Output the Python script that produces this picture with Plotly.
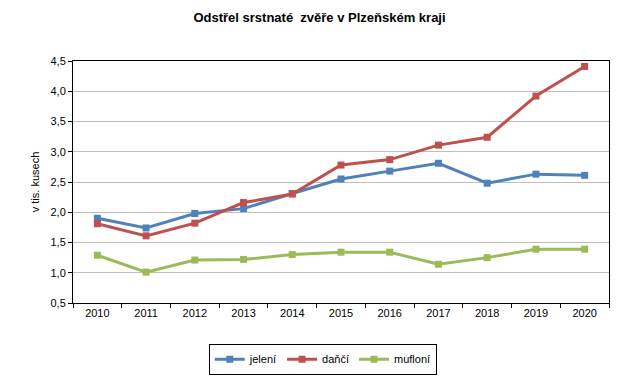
import plotly.graph_objects as go

years = ["2010", "2011", "2012", "2013", "2014", "2015", "2016", "2017", "2018", "2019", "2020"]
jeleni = [1.90, 1.74, 1.98, 2.06, 2.31, 2.55, 2.68, 2.81, 2.48, 2.63, 2.61]
danci = [1.81, 1.61, 1.82, 2.16, 2.30, 2.78, 2.87, 3.11, 3.24, 3.92, 4.41]
mufloni = [1.29, 1.01, 1.21, 1.22, 1.30, 1.34, 1.34, 1.14, 1.25, 1.39, 1.39]

series = [("jelení", jeleni, "#4F81BD"), ("daňčí", danci, "#C0504D"), ("mufloní", mufloni, "#9BBB59")]

FONT = "Liberation Sans, Arial, sans-serif"
fig = go.Figure()
for name, vals, col in series:
    fig.add_trace(go.Scatter(
        x=years, y=vals, name=name, mode="lines+markers",
        line=dict(color=col, width=3),
        marker=dict(symbol="square", size=7, color=col),
    ))

fig.update_layout(
    width=639, height=377,
    paper_bgcolor="white", plot_bgcolor="white",
    margin=dict(l=73, r=30, t=61, b=74, autoexpand=False),
    font=dict(family=FONT, size=11, color="black"),
    title=dict(text="<b>Odstřel srstnaté  zvěře v Plzeňském kraji</b>",
               x=0.5, xanchor="center", y=0.955, yanchor="middle",
               font=dict(family=FONT, size=13, color="black")),
    showlegend=True,
    legend=dict(orientation="h", x=0.466, xanchor="center", y=-0.168, yanchor="top",
                bordercolor="black", borderwidth=1, font=dict(size=11),
                itemwidth=30, tracegroupgap=0),
)
fig.update_xaxes(
    type="category", tickson="boundaries", ticks="outside", ticklen=4,
    tickcolor="black", showline=True, linecolor="black", linewidth=1,
    mirror=True, showgrid=False, range=[-0.5, 10.5], tickfont=dict(size=11),
    automargin=False,
)
fig.update_yaxes(
    range=[0.5, 4.5], dtick=0.5, tick0=0.5, tickformat=".1f",
    ticks="outside", ticklen=4, tickcolor="black",
    showline=True, linecolor="black", linewidth=1, mirror=True,
    showgrid=True, gridcolor="#BEBEBE", gridwidth=1,
    title=dict(text="v tis. kusech", font=dict(size=11), standoff=8),
    zeroline=False, automargin=False,
)
fig.update_layout(separators=",.")
fig.write_html("out.html", config={"displayModeBar": False},
               post_script="document.body.style.margin='0';document.body.style.padding='0';document.body.style.overflow='hidden';")
